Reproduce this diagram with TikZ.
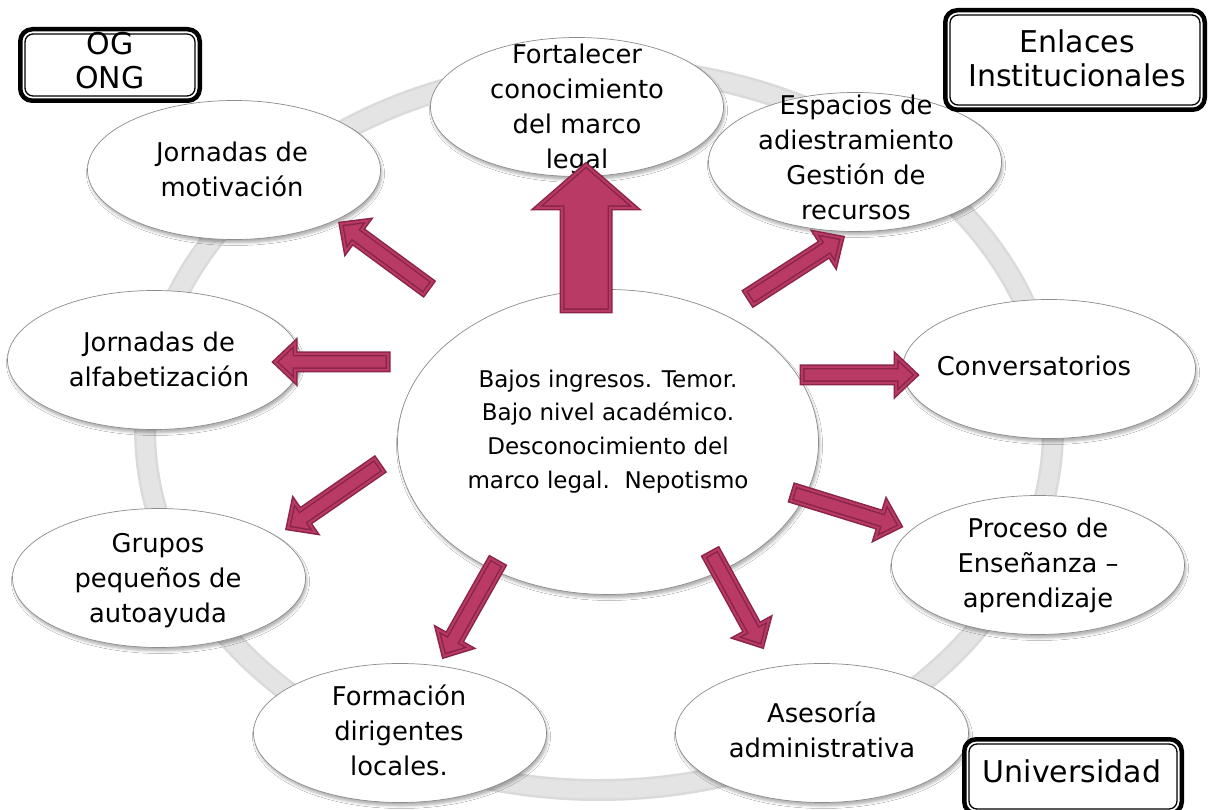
\documentclass[tikz,border=0pt]{standalone}
\usepackage{fontspec}
\setmainfont{DejaVu Sans}
\usetikzlibrary{shapes.geometric,calc,shadows.blur}
\definecolor{arrfill}{RGB}{185,58,100}
\definecolor{arrdark}{RGB}{138,36,74}
\definecolor{ringgray}{RGB}{218,218,218}
\definecolor{ringlight}{RGB}{228,228,228}
\definecolor{ellborder}{RGB}{140,140,140}
\tikzset{
  sat/.style={ellipse, draw=ellborder, line width=0.7pt, fill=white,
    minimum width=293pt, minimum height=139pt, inner sep=0pt,
    blur shadow={shadow xshift=1.5pt, shadow yshift=-3.5pt, shadow opacity=30, shadow blur radius=2.5pt}},
  centre/.style={sat, minimum width=421pt, minimum height=305pt},
  sattext/.style={align=center, inner sep=0pt, font=\fontsize{25.8}{35}\selectfont},
  centretext/.style={align=center, inner sep=0pt, font=\fontsize{23}{33.9}\selectfont},
  boxtext/.style={align=center, inner sep=0pt, font=\fontsize{30}{34}\selectfont},
  outerbox/.style={draw=black, line width=4.5pt, rounded corners=12pt, fill=white, inner sep=0pt},
  innerbox/.style={draw=black, line width=1.3pt, rounded corners=8pt},
  blockarrowstyle/.style={fill=arrfill, draw=arrdark, line width=1.5pt, double=arrfill, double distance=2pt, line join=miter},
  ringstyle/.style={draw=ringgray, line width=22pt},
  ringinner/.style={draw=ringlight, line width=17pt}
}
\newcommand\blockarrow[6]{%
  \coordinate (#1-hb) at ($(#3)!#6!(#2)$);
  \path[blockarrowstyle] ($(#2)!#4!90:(#3)$) -- ($(#1-hb)!#4!90:(#3)$) -- ($(#1-hb)!#5!90:(#3)$) -- (#3) -- ($(#1-hb)!#5!-90:(#3)$) -- ($(#1-hb)!#4!-90:(#3)$) -- ($(#2)!#4!-90:(#3)$) -- cycle;
}
\newcommand\doublebox[1]{%
  \draw[innerbox] ([shift={(7pt,-7pt)}]#1.north west) rectangle ([shift={(-7pt,7pt)}]#1.south east);
}
\begin{document}
\begin{tikzpicture}[x=1pt,y=-1pt]
\useasboundingbox (0,0) rectangle (1208,810);
\fill[white] (0,0) rectangle (1208,810);
% ring
\draw[ringstyle] (599,429) ellipse [x radius=454, y radius=361];
\draw[ringinner] (599,429) ellipse [x radius=454, y radius=361];
% satellites
\node[sat] (fort) at (577,107) {};
\node[sat] (motiv) at (234,170) {};
\node[sat] (espac) at (855,162) {};
\node[sat] (alfab) at (154,360) {};
\node[sat] (conv) at (1049,369) {};
\node[sat] (grupos) at (159,578) {};
\node[sat] (proceso) at (1038,565) {};
\node[sat] (formac) at (400,733) {};
\node[sat] (asesor) at (822,733) {};
\node[sattext] (tfort) at (577,108.7) {Fortalecer\\conocimiento\\del marco\\legal};
\node[sattext] (tmotiv) at (232,169.3) {Jornadas de\\motivación};
\node[sattext] (tespac) at (856,157) {Espacios de\\adiestramiento\\Gestión de\\recursos};
\node[sattext] (talfab) at (159,359.8) {Jornadas de\\alfabetización};
\node[sattext] (tconv) at (1034,366) {Conversatorios};
\node[sattext] (tgrupos) at (158,580.4) {Grupos\\pequeños de\\autoayuda};
\node[sattext] (tproceso) at (1038,565.8) {Proceso de\\Enseñanza –\\aprendizaje};
\node[sattext] (tformac) at (399,730.3) {Formación\\dirigentes\\locales.};
\node[sattext] (tasesor) at (822,729.8) {Asesoría\\administrativa};
% boxes
\node[outerbox, minimum width=179.5pt, minimum height=71.5pt] (og) at (110,65) {};
\doublebox{og}
\node[boxtext] (tog) at (110,61) {OG\\ONG};
\node[outerbox, minimum width=259.5pt, minimum height=99.5pt] (enl) at (1075,60) {};
\doublebox{enl}
\node[boxtext] (tenl) at (1077,58) {Enlaces\\Institucionales};
\node[outerbox, minimum width=217.5pt, minimum height=74.5pt] (uni) at (1073,776.5) {};
\doublebox{uni}
\node[boxtext] (tuni) at (1072,771) {Universidad};
% centre
\node[centre] (core) at (608,442) {};
\node[centretext] (tcore) at (608,431.6) {Bajos ingresos. Temor.\\Bajo nivel académico.\\Desconocimiento del\\marco legal.~~Nepotismo};
% arrows
\coordinate (aT) at (428,288); \coordinate (aH) at (341,224);
\coordinate (bT) at (388,362); \coordinate (bH) at (275,362);
\coordinate (cT) at (379,465); \coordinate (cH) at (288,528);
\coordinate (dT) at (586,311); \coordinate (dH) at (586,165);
\coordinate (eT) at (749,298); \coordinate (eH) at (842,238);
\coordinate (fT) at (802,375); \coordinate (fH) at (916,375);
\coordinate (gT) at (793,493); \coordinate (gH) at (900,526);
\coordinate (hT) at (497,562); \coordinate (hH) at (444,656);
\coordinate (iT) at (711,553); \coordinate (iH) at (762,646);
\blockarrow{a}{aT}{aH}{8pt}{19pt}{20pt}
\blockarrow{b}{bT}{bH}{8pt}{19pt}{20pt}
\blockarrow{c}{cT}{cH}{8pt}{19pt}{20pt}
\blockarrow{d}{dT}{dH}{24pt}{49.5pt}{43pt}
\blockarrow{e}{eT}{eH}{8pt}{19pt}{20pt}
\blockarrow{f}{fT}{fH}{8pt}{19pt}{20pt}
\blockarrow{g}{gT}{gH}{8pt}{19pt}{20pt}
\blockarrow{h}{hT}{hH}{8pt}{19pt}{20pt}
\blockarrow{i}{iT}{iH}{8pt}{19pt}{20pt}
\end{tikzpicture}
\end{document}
